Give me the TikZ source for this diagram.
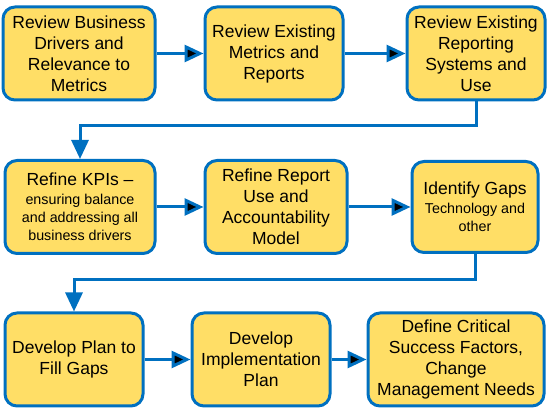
\documentclass[tikz,border=0pt]{standalone}
\usepackage{fontspec}
\setmainfont{Liberation Sans}
\usepackage{tikz}
\usetikzlibrary{arrows.meta}
\definecolor{boxfill}{HTML}{FFDE66}
\definecolor{boxline}{HTML}{0070C0}
\tikzstyle{stepbox}=[draw=boxline, fill=boxfill, line width=3pt, rounded corners=12pt,
    align=center, inner sep=0pt, font=\fontsize{17.5}{21}\selectfont]
\tikzstyle{flow}=[draw=boxline, line width=3pt, -{Triangle[length=19pt,width=17pt]}]
\newcommand{\stepnode}{\node[stepbox]}
\newcommand{\smalltext}[1]{{\fontsize{14.3}{18}\selectfont #1}}

\begin{document}
\begin{tikzpicture}[x=1pt, y=-1pt]
        \useasboundingbox (0,0) rectangle (550,414);

            \stepnode (s1) at (79,53.5) [minimum width=152pt, minimum height=93pt]
                {Review Business\\Drivers and\\Relevance to\\Metrics};
            \stepnode (s2) at (274,53.5) [minimum width=138pt, minimum height=93pt]
                {Review Existing\\Metrics and\\Reports};
            \stepnode (s3) at (476,53.5) [minimum width=138pt, minimum height=93pt]
                {Review Existing\\Reporting\\Systems and\\Use};

            \stepnode (s4) at (80,207) [minimum width=150pt, minimum height=93pt]
                {Refine KPIs --\\[-2pt]\smalltext{ensuring balance}\\[-3pt]
                 \smalltext{and addressing all}\\[-3pt]\smalltext{business drivers}};
            \stepnode (s5) at (276,207) [minimum width=142pt, minimum height=93pt]
                {Refine Report\\Use and\\Accountability\\Model};
            \stepnode (s6) at (475,207) [minimum width=126pt, minimum height=91pt]
                {Identify Gaps\\[-2pt]\smalltext{Technology and}\\[-3pt]\smalltext{other}};

            \stepnode (s7) at (74,359.5) [minimum width=138pt, minimum height=93pt]
                {Develop Plan to\\Fill Gaps};
            \stepnode (s8) at (261,359.5) [minimum width=138pt, minimum height=93pt]
                {Develop\\Implementation\\Plan};
            \stepnode (s9) at (456,359.5) [minimum width=176pt, minimum height=93pt]
                {Define Critical\\Success Factors,\\Change\\Management Needs};

            \coordinate (k1) at (80,126);
            \coordinate (k2) at (74,280);

            \path[flow]
                (s1) edge (s2)
                (s2) edge (s3)
                (s4) edge (s5)
                (s5) edge (s6)
                (s7) edge (s8)
                (s8) edge (s9)
            ;
            \draw[flow] (s3.south) |- (k1) -- (s4.north);
            \draw[flow] (s6.south) |- (k2) -- (s7.north);
        \end{tikzpicture}
\end{document}
